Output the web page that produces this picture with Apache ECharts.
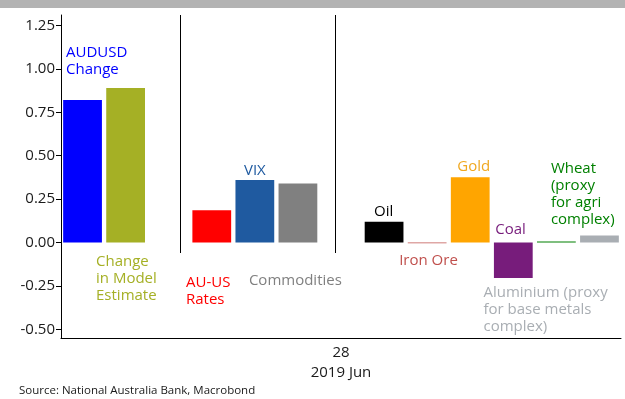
<!DOCTYPE html>
<html>
<head>
<meta charset="utf-8">
<script src="https://cdn.jsdelivr.net/npm/echarts@6/dist/echarts.min.js"></script>
<style>html,body{margin:0;padding:0;background:#fff}#c{width:625px;height:399px}</style>
</head>
<body>
<div id="c"></div>
<script>
// ---- data ----
const categories = ['AUDUSD Change', 'Change in Model Estimate', '', 'AU-US Rates', 'VIX', 'Commodities', '',
  'Oil', 'Iron Ore', 'Gold', 'Coal', 'Wheat (proxy for agri complex)', 'Aluminium (proxy for base metals complex)'];
const values = [0.82, 0.89, null, 0.185, 0.36, 0.34, null, 0.12, -0.005, 0.375, -0.205, 0.005, 0.04];
const labelTexts = ['AUDUSD\nChange', 'Change\nin Model\nEstimate', '', 'AU-US\nRates', 'VIX', 'Commodities', '',
  'Oil', 'Iron Ore', 'Gold', 'Coal', 'Wheat\n(proxy\nfor agri\ncomplex)', 'Aluminium (proxy\nfor base metals\ncomplex)'];
const yTickValues = [-0.5, -0.25, 0, 0.25, 0.5, 0.75, 1.0, 1.25];
const dateLabel = ['28', '2019 Jun'];
const sourceText = 'Source: National Australia Bank, Macrobond';

// ---- styles ----
const barColors = ['#0000ff', '#a5b025', null, '#ff0000', '#1f5aa0', '#808080', null,
  '#000000', '#c0504d', '#ffa500', '#771c7b', '#008000', '#a9aeb3'];
const labelCfg = [
  {position: 'top', align: 'left', offset: [-16.5, -16.5], color: '#0000ff'},
  {position: 'bottom', align: 'left', offset: [-29.6, 5.5], color: '#a5b025'},
  null,
  {position: 'bottom', align: 'left', offset: [-25.8, 27], color: '#ff0000'},
  {position: 'top', align: 'center', offset: [0, 4.5], color: '#1f5aa0'},
  {position: 'bottom', align: 'left', offset: [-49, 24.5], color: '#808080'},
  null,
  {position: 'top', align: 'left', offset: [-10, 3.5], color: '#000000'},
  {position: 'bottom', align: 'left', offset: [-28, 3.5], color: '#c0504d'},
  {position: 'top', align: 'left', offset: [-13, 3], color: '#f0a820'},
  {position: 'top', align: 'left', offset: [-18, 1], color: '#771c7b'},
  {position: 'top', align: 'left', offset: [-5.5, -8.5], color: '#008000'},
  {position: 'bottom', align: 'left', offset: [-116, 37], color: '#a9aeb3'}
];
const FONT = 'Open Sans';

const barData = categories.map((c, i) => {
  if (values[i] == null) return '-';
  const lc = labelCfg[i];
  return {
    value: values[i],
    itemStyle: {color: barColors[i]},
    label: {
      show: true,
      formatter: labelTexts[i],
      position: lc.position,
      align: lc.align,
      offset: lc.offset,
      distance: 5,
      color: lc.color,
      fontFamily: FONT,
      fontSize: 15,
      lineHeight: 17
    }
  };
});

const chart = echarts.init(document.getElementById('c'), null, {renderer: 'canvas'});
chart.setOption({
  animation: false,
  backgroundColor: '#ffffff',
  grid: {left: 61, right: 4, top: 15, bottom: 61, containLabel: false},
  graphic: [
    {type: 'rect', left: 0, top: 0, shape: {width: 625, height: 8}, style: {fill: '#b3b3b3'}, silent: true},
    {type: 'text', left: 19, top: 385, style: {text: sourceText, font: '11.5px "Open Sans"', fill: '#1a1a1a'}}
  ],
  xAxis: [
    {
      type: 'category', data: categories, boundaryGap: true,
      axisLine: {show: true, onZero: false, lineStyle: {color: '#000', width: 1}},
      axisTick: {show: false}, axisLabel: {show: false}, splitLine: {show: false}
    },
    {
      type: 'category', data: [dateLabel[0]], position: 'bottom', offset: 0,
      axisLine: {show: false}, axisTick: {show: false},
      axisLabel: {
        show: true, margin: 5, color: '#1a1a1a', fontFamily: FONT, fontSize: 15, lineHeight: 20,
        formatter: () => dateLabel.join('\n')
      }
    }
  ],
  yAxis: {
    type: 'value', min: -0.55, max: 1.31,
    axisLine: {show: true, lineStyle: {color: '#000', width: 1}},
    axisTick: {show: true, length: 5, customValues: yTickValues, lineStyle: {color: '#000'}},
    axisLabel: {
      show: true, customValues: yTickValues, margin: 6, color: '#1a1a1a', fontFamily: FONT, fontSize: 15,
      formatter: v => v.toFixed(2)
    },
    splitLine: {show: false}
  },
  series: [{
    type: 'bar', xAxisIndex: 0, yAxisIndex: 0,
    barWidth: '90%',
    data: barData,
    markLine: {
      silent: true, symbol: 'none', label: {show: false},
      lineStyle: {color: '#000', width: 1, type: 'solid'},
      data: [
        [{x: 180, y: 15}, {x: 180, y: 253}],
        [{x: 335, y: 15}, {x: 335, y: 253}]
      ]
    }
  }]
});
</script>
</body>
</html>
